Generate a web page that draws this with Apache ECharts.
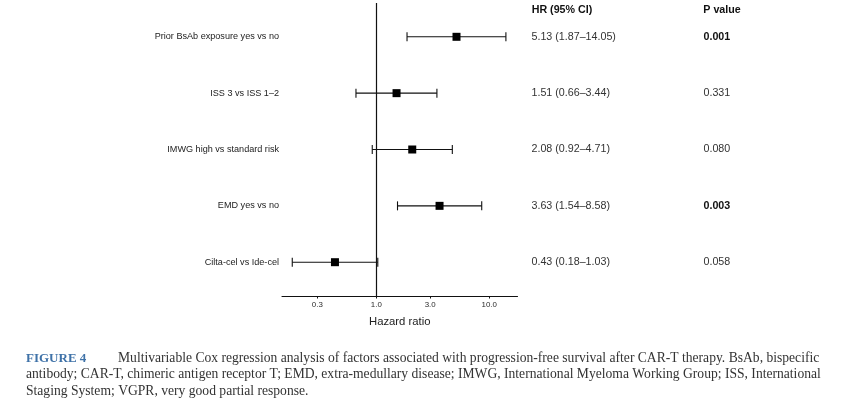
<!DOCTYPE html>
<html>
<head>
<meta charset="utf-8">
<script src="https://cdn.jsdelivr.net/npm/echarts@6/dist/echarts.min.js"></script>
<style>html,body{margin:0;padding:0;background:#fff;}#chart{width:852px;height:412px;}</style>
</head>
<body>
<div id="chart"></div>
<script>
const labels = ['Prior BsAb exposure yes vs no', 'ISS 3 vs ISS 1–2', 'IMWG high vs standard risk', 'EMD yes vs no', 'Cilta-cel vs Ide-cel'];
const hr = [5.13, 1.51, 2.08, 3.63, 0.43];
const lower = [1.87, 0.66, 0.92, 1.54, 0.18];
const upper = [14.05, 3.44, 4.71, 8.58, 1.03];
const pValues = ['0.001', '0.331', '0.080', '0.003', '0.058'];
const xTicks = [0.3, 1, 3, 10];
const headers = ['HR (95% CI)', 'P value'];
const xName = 'Hazard ratio';
const captionTag = 'FIGURE 4';
const captionLines = [
  'Multivariable Cox regression analysis of factors associated with progression-free survival after CAR-T therapy. BsAb, bispecific',
  'antibody; CAR-T, chimeric antigen receptor T; EMD, extra-medullary disease; IMWG, International Myeloma Working Group; ISS, International',
  'Staging System; VGPR, very good partial response.'
];

const n = labels.length;
const rows = labels.map((_, i) => n - i);
const ciText = hr.map((h, i) => h.toFixed(2) + ' (' + lower[i].toFixed(2) + '–' + upper[i].toFixed(2) + ')');
const seriesData = labels.map((_, i) => [rows[i], lower[i], upper[i], hr[i]]);
const idx = v => n - Math.round(v);

const SANS = 'Liberation Sans';
const SERIF = 'Liberation Serif';
const chart = echarts.init(document.getElementById('chart'), null, {renderer: 'canvas'});

const hiddenY = (extra) => Object.assign({
  type: 'value', min: 0.4, max: 5.6,
  axisLine: {show: false}, axisTick: {show: false}, splitLine: {show: false}
}, extra);

chart.setOption({
  animation: false,
  backgroundColor: '#ffffff',
  grid: {left: 282, right: 334.5, top: 3, bottom: 116, containLabel: false},
  xAxis: {
    type: 'log', logBase: 10, min: 0.146, max: 17.8,
    splitLine: {show: false}, minorTick: {show: false}, minorSplitLine: {show: false},
    axisLine: {show: true, lineStyle: {color: '#111', width: 1.1}},
    axisTick: {show: true, length: 2.5, customValues: xTicks, lineStyle: {color: '#111', width: 1}},
    axisLabel: {customValues: xTicks, formatter: v => Number(v).toFixed(1), fontSize: 7.9, color: '#2a2a2a', margin: 5, fontFamily: SANS},
    name: xName, nameLocation: 'middle', nameGap: 20,
    nameTextStyle: {fontSize: 11.3, color: '#222', fontFamily: SANS}
  },
  yAxis: [
    hiddenY({position: 'left', axisLabel: {customValues: rows, formatter: v => labels[idx(v)], fontSize: 9.1, color: '#222', margin: 3, fontFamily: SANS}}),
    hiddenY({position: 'right', offset: 14, axisLabel: {customValues: rows, formatter: v => ciText[idx(v)], fontSize: 10.7, color: '#333', margin: 0, align: 'left', fontFamily: SANS}}),
    hiddenY({position: 'right', offset: 186, axisLabel: {customValues: rows,
      formatter: v => { const p = pValues[idx(v)]; return parseFloat(p) < 0.05 ? '{b|' + p + '}' : '{n|' + p + '}'; },
      margin: 0, align: 'left',
      rich: {b: {fontSize: 10.7, fontWeight: 'bold', color: '#111', fontFamily: SANS}, n: {fontSize: 10.7, color: '#333', fontFamily: SANS}}}})
  ],
  series: [{
    type: 'custom',
    xAxisIndex: 0, yAxisIndex: 0,
    data: seriesData,
    encode: {x: [1, 2, 3], y: 0},
    renderItem: function (params, api) {
      const y = api.value(0), lo = api.value(1), hi = api.value(2), m = api.value(3);
      const pl = api.coord([lo, y]), ph = api.coord([hi, y]), pm = api.coord([m, y]);
      const cap = 4.5, s = 4;
      const ls = {stroke: '#111', lineWidth: 1.1};
      return {type: 'group', children: [
        {type: 'line', shape: {x1: pl[0], y1: pl[1], x2: ph[0], y2: ph[1]}, style: ls},
        {type: 'line', shape: {x1: pl[0], y1: pl[1] - cap, x2: pl[0], y2: pl[1] + cap}, style: ls},
        {type: 'line', shape: {x1: ph[0], y1: ph[1] - cap, x2: ph[0], y2: ph[1] + cap}, style: ls},
        {type: 'rect', shape: {x: pm[0] - s, y: pm[1] - s, width: 2 * s, height: 2 * s}, style: {fill: '#000'}}
      ]};
    },
    markLine: {
      silent: true, symbol: 'none', animation: false,
      label: {show: false},
      lineStyle: {color: '#111', width: 1.2, type: 'solid'},
      data: [{xAxis: 1}]
    }
  }],
  graphic: [
    {type: 'text', x: 531.7, y: 9.6, style: {text: headers[0], fontSize: 10.7, fontWeight: 'bold', fontFamily: SANS, fill: '#111', align: 'left', verticalAlign: 'middle'}},
    {type: 'text', x: 703.3, y: 9.6, style: {text: headers[1], fontSize: 10.7, fontWeight: 'bold', fontFamily: SANS, fill: '#111', align: 'left', verticalAlign: 'middle'}},
    {type: 'text', x: 26, y: 350, style: {
      text: '{fig|' + captionTag + '}{t|' + captionLines[0] + '}\n{t|' + captionLines[1] + '}\n{t|' + captionLines[2] + '}',
      align: 'left', verticalAlign: 'top',
      rich: {
        fig: {fontSize: 13, fontWeight: 'bold', fontFamily: SERIF, fill: '#3f72a8', width: 92, lineHeight: 16.5},
        t: {fontSize: 13.6, fontFamily: SERIF, fill: '#333', lineHeight: 16.5}
      }
    }}
  ]
});
</script>
</body>
</html>
